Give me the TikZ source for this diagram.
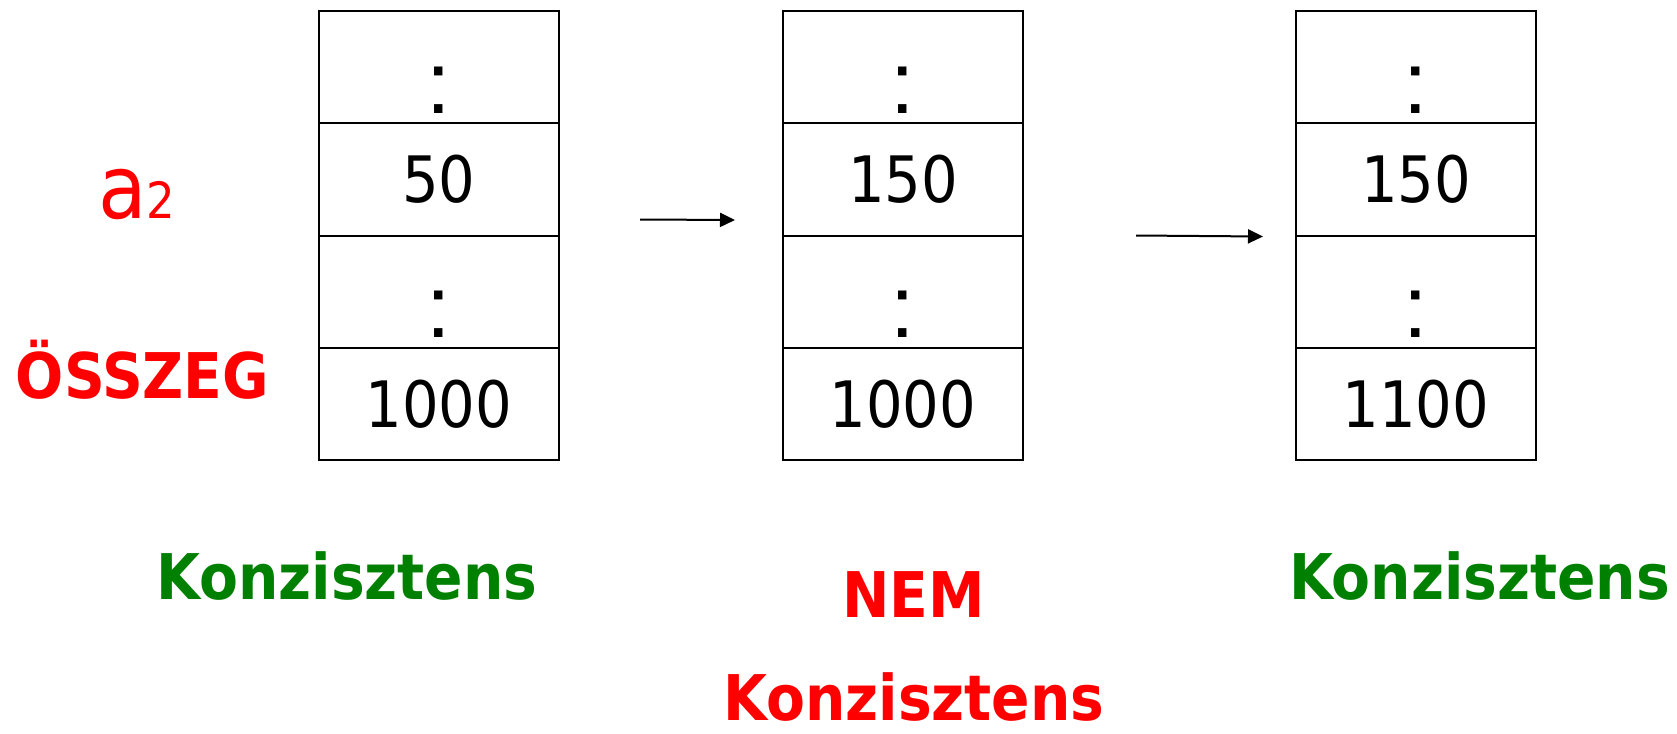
\documentclass[tikz,border=0pt]{standalone}
\usepackage{fontspec}
\setmainfont{DejaVu Sans Condensed}
\newfontfamily\colonfont{Liberation Sans}
\usetikzlibrary{arrows.meta}
\definecolor{kred}{RGB}{255,0,0}
\definecolor{kgreen}{RGB}{0,128,0}
\begin{document}
\begin{tikzpicture}[x=0.5pt,y=-0.5pt,
  cell/.style={draw=black,line width=1pt,minimum width=120pt,minimum height=56.125pt,
    inner sep=0pt,font=\fontsize{32}{32}\selectfont},
  colonmark/.style={anchor=base,inner sep=0pt,font=\colonfont\fontsize{44}{44}\selectfont},
  lbl/.style={anchor=base,inner sep=0pt,font=\bfseries\fontsize{31.5}{31.5}\selectfont},
  conn/.style={line width=1pt,-{Triangle[length=7.5pt,width=7pt]}}]
\useasboundingbox (0,0) rectangle (1677,734);

% box 1
\node[cell] (b1r1) at (439,67.125) {};
\node[cell] (b1r2) at (439,179.375) {50};
\node[cell] (b1r3) at (439,291.625) {};
\node[cell] (b1r4) at (439,403.875) {1000};
% box 2
\node[cell] (b2r1) at (903,67.125) {};
\node[cell] (b2r2) at (903,179.375) {150};
\node[cell] (b2r3) at (903,291.625) {};
\node[cell] (b2r4) at (903,403.875) {1000};
% box 3
\node[cell] (b3r1) at (1416,67.125) {};
\node[cell] (b3r2) at (1416,179.375) {150};
\node[cell] (b3r3) at (1416,291.625) {};
\node[cell] (b3r4) at (1416,403.875) {1100};

% colons
\node[colonmark] (c11) at (439,113) {:};
\node[colonmark] (c13) at (439,337.5) {:};
\node[colonmark] (c21) at (903,113) {:};
\node[colonmark] (c23) at (903,337.5) {:};
\node[colonmark] (c31) at (1416,113) {:};
\node[colonmark] (c33) at (1416,337.5) {:};

% left labels
\node[anchor=base west,inner sep=0pt,text=kred] (a2) at (98,218)
  {{\fontsize{44}{44}\selectfont a}{\fontsize{25}{25}\selectfont 2}};
\node[lbl,text=kred] (osszeg) at (142.5,398) {ÖSSZEG};

% arrows
\coordinate (a1s) at (640,219.5);
\coordinate (a1e) at (735,220);
\coordinate (a2s) at (1136,235.5);
\coordinate (a2e) at (1263,236.5);
\draw[conn] (a1s) -- (a1e);
\draw[conn] (a2s) -- (a2e);

% bottom labels
\node[lbl,text=kgreen] (k1) at (347,599) {Konzisztens};
\node[lbl,text=kred] (nem) at (913.5,617) {NEM};
\node[lbl,text=kred] (k2) at (914,720) {Konzisztens};
\node[lbl,text=kgreen] (k3) at (1479.5,599) {Konzisztens};
\end{tikzpicture}
\end{document}
